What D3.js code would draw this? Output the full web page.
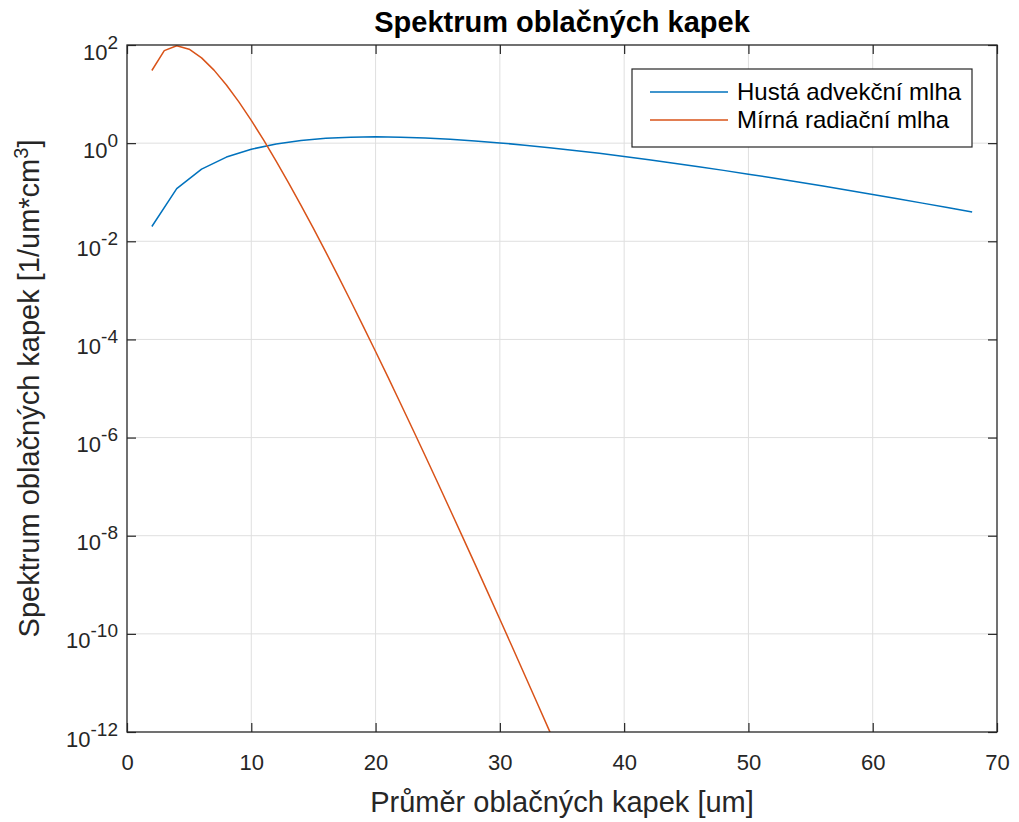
<!DOCTYPE html>
<html>
<head>
<meta charset="utf-8">
<script src="https://cdn.jsdelivr.net/npm/d3@7"></script>
<style>
  body { margin: 0; background: #fff; }
  svg { display: block; font-family: "Liberation Sans", Arial, sans-serif; }
</style>
</head>
<body>
<svg id="chart" width="1019" height="822"></svg>
<script>
// droplet diameter [um], advection fog sampled every 2 um
const advectionDiameters = [2, 4, 6, 8, 10, 12, 14, 16, 18, 20, 22, 24, 26, 28, 30, 32, 34,
  36, 38, 40, 42, 44, 46, 48, 50, 52, 54, 56, 58, 60, 62, 64, 66, 68];

// Hustá advekční mlha
const advectionFog = [0.0200, 0.1186, 0.2964, 0.5205, 0.7530, 0.9640, 1.1339, 1.2543,
  1.3230, 1.3444, 1.3257, 1.2750, 1.2006, 1.1110, 1.0123, 0.9102, 0.8089, 0.7112,
  0.6197, 0.5354, 0.4591, 0.3912, 0.3311, 0.2787, 0.2334, 0.1944, 0.1613, 0.1332,
  0.1097, 0.0900, 0.0735, 0.0599, 0.0487, 0.0394];

// radiation fog sampled every 1 um (drops under the axis after ~34 um)
const radiationDiameters = [2, 3, 4, 5, 6, 7, 8, 9, 10, 11, 12, 13, 14, 15, 16, 17, 18,
  19, 20, 21, 22, 23, 24, 25, 26, 27, 28, 29, 30, 31, 32, 33, 34, 35, 36];

// Mírná radiační mlha
const radiationFog = [30.25, 76.88, 96.37, 82.03, 54.66, 30.74, 15.29, 6.916, 2.903,
  1.148, 0.4316, 0.1557, 0.0542, 0.0183, 6.012e-3, 1.930e-3, 6.068e-4, 1.873e-4,
  5.684e-5, 1.700e-5, 5.013e-6, 1.461e-6, 4.208e-7, 1.200e-7, 3.386e-8, 9.476e-9,
  2.630e-9, 7.244e-10, 1.981e-10, 5.380e-11, 1.453e-11, 3.898e-12, 1.040e-12,
  2.762e-13, 7.30e-14];

const seriesNames = ["Hustá advekční mlha", "Mírná radiační mlha"];
const xTicks = [0, 10, 20, 30, 40, 50, 60, 70];
const yTickExponents = [2, 0, -2, -4, -6, -8, -10, -12];

const colors = ["#0072BD", "#D95319"];
const axisColor = "#262626";
const gridColor = "#dfdfdf";

const svg = d3.select("#chart");
const margin = { left: 127, right: 22, top: 45, bottom: 90 };
const width = 1019, height = 822;
const x0 = margin.left, x1 = width - margin.right;
const y0 = height - margin.bottom, y1 = margin.top;

const x = d3.scaleLinear().domain([0, 70]).range([x0, x1]);
const y = d3.scaleLog().domain([1e-12, 1e2]).range([y0, y1]);
const yTicks = yTickExponents.map((e) => Math.pow(10, e));

svg.append("defs").append("clipPath").attr("id", "plot-clip")
  .append("rect").attr("x", x0).attr("y", y1).attr("width", x1 - x0).attr("height", y0 - y1);

// grid
const grid = svg.append("g").attr("stroke", gridColor).attr("stroke-width", 1);
grid.selectAll("line.v").data(xTicks.slice(1, -1)).join("line")
  .attr("x1", (d) => x(d)).attr("x2", (d) => x(d)).attr("y1", y1).attr("y2", y0);
grid.selectAll("line.h").data(yTicks.slice(1, -1)).join("line")
  .attr("x1", x0).attr("x2", x1).attr("y1", (d) => y(d)).attr("y2", (d) => y(d));

// series
const line = d3.line().x((d) => x(d[0])).y((d) => y(d[1]));
const series = [
  advectionFog.map((v, j) => [advectionDiameters[j], v]),
  radiationFog.map((v, j) => [radiationDiameters[j], v]),
];
const plot = svg.append("g").attr("clip-path", "url(#plot-clip)");
series.forEach((points, i) => {
  plot.append("path")
    .datum(points)
    .attr("fill", "none")
    .attr("stroke", colors[i])
    .attr("stroke-width", 1.5)
    .attr("stroke-linejoin", "round")
    .attr("d", line);
});

// axes
function styleAxis(g) {
  g.select(".domain").remove();
  g.selectAll(".tick line").attr("stroke", axisColor).attr("stroke-width", 1.2);
  g.selectAll(".tick text").attr("fill", axisColor).attr("font-size", 22)
    .attr("font-family", "Liberation Sans, Arial, sans-serif");
}

svg.append("g").attr("transform", `translate(0,${y0})`)
  .call(d3.axisBottom(x).tickValues(xTicks).tickSizeInner(-9).tickSizeOuter(0).tickPadding(22))
  .call(styleAxis);
svg.append("g").attr("transform", `translate(0,${y1})`)
  .call(d3.axisTop(x).tickValues(xTicks).tickSizeInner(-9).tickSizeOuter(0).tickFormat(""))
  .call(styleAxis);

svg.append("g").attr("transform", `translate(${x0},0)`)
  .call(d3.axisLeft(y).tickValues(yTicks).tickSizeInner(-9).tickSizeOuter(0).tickPadding(9))
  .call(styleAxis)
  .call((g) => g.selectAll(".tick text").each(function (d) {
    const t = d3.select(this).text(null).attr("dy", 14);
    t.append("tspan").text("10");
    t.append("tspan").attr("dy", -11).attr("font-size", 19).text(Math.round(Math.log10(d)));
  }));
svg.append("g").attr("transform", `translate(${x1},0)`)
  .call(d3.axisRight(y).tickValues(yTicks).tickSizeInner(-9).tickSizeOuter(0).tickFormat(""))
  .call(styleAxis);

// box
svg.append("rect").attr("x", x0).attr("y", y1).attr("width", x1 - x0).attr("height", y0 - y1)
  .attr("fill", "none").attr("stroke", axisColor).attr("stroke-width", 1.3);

// title and labels
svg.append("text").attr("x", (x0 + x1) / 2).attr("y", 32).attr("text-anchor", "middle")
  .attr("font-size", 29).attr("font-weight", "bold").attr("fill", "#000")
  .text("Spektrum oblačných kapek");

svg.append("text").attr("x", (x0 + x1) / 2).attr("y", 812).attr("text-anchor", "middle")
  .attr("font-size", 29).attr("fill", axisColor)
  .text("Průměr oblačných kapek [um]");

const yLabel = svg.append("text")
  .attr("transform", `translate(39,${(y0 + y1) / 2}) rotate(-90)`)
  .attr("text-anchor", "middle").attr("font-size", 29).attr("fill", axisColor);
yLabel.append("tspan").text("Spektrum oblačných kapek [1/um*cm");
yLabel.append("tspan").attr("dy", -11).attr("font-size", 20).text("3");
yLabel.append("tspan").attr("dy", 11).text("]");

// legend
const legend = svg.append("g").attr("transform", "translate(632,69)");
legend.append("rect").attr("width", 340).attr("height", 78)
  .attr("fill", "#fff").attr("stroke", axisColor).attr("stroke-width", 1.2);
seriesNames.forEach((name, i) => {
  const row = legend.append("g").attr("transform", `translate(0,${23 + i * 28})`);
  row.append("line").attr("x1", 18).attr("x2", 96).attr("stroke", colors[i]).attr("stroke-width", 1.5);
  row.append("text").attr("x", 105).attr("dy", "0.35em").attr("font-size", 24)
    .attr("fill", "#000").text(name);
});
</script>
</body>
</html>
